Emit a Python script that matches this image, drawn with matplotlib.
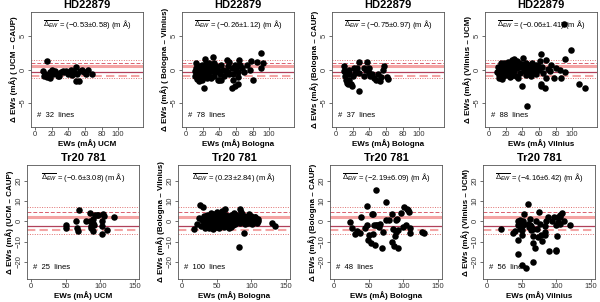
import matplotlib.pyplot as plt

plt.rcParams['font.family'] = ['Liberation Sans', 'DejaVu Sans']
plt.rcParams['mathtext.fontset'] = 'custom'
plt.rcParams['mathtext.rm'] = 'Liberation Sans'
plt.rcParams['mathtext.it'] = 'Liberation Sans:italic'

# ---- data ----
# HD22879, UCM - CAUP
x1 = [14, 12, 14, 18, 20, 22, 24, 27, 29, 16, 18, 33, 35, 37, 39, 43, 49, 49, 53, 51,
      54, 57, 61, 64, 69, 10, 11, 25, 31, 45, 47, 59]
y1 = [1.3, -0.7, -1.1, -0.4, -0.1, -0.6, -0.2, -0.9, -1.0, -0.9, -1.2, -0.2, -0.4, -0.2,
      -0.7, -0.1, 0.4, -1.7, -1.7, -0.6, -0.2, -0.1, -0.7, -0.1, -0.6, -0.2, -1.0, -0.5,
      -0.3, -0.8, -0.3, -0.4]

# HD22879, Bologna - Vilnius
x2 = [90, 93, 90, 86, 78, 80, 70, 64, 63, 62, 62, 62, 59, 55, 57, 57, 52, 49, 51, 44,
      40, 38, 41, 35, 34, 32, 30, 30, 28, 25, 23, 23, 21, 21, 22, 19, 17, 15, 14, 13,
      12, 11, 12, 15, 19, 25, 28, 32, 36, 38, 42, 46, 55, 59, 52, 67, 73, 77, 17, 20,
      23, 13, 16, 30, 34, 48, 51, 60, 65, 42, 27, 21, 15, 19, 11, 14, 24, 36]
y2 = [2.45, 1.0, 0.15, 1.1, 1.2, -1.5, -0.4, 1.4, 0.5, -0.4, -1.1, -2.2, -2.5, -2.7,
      -1.5, -0.6, 1.1, 1.4, -0.3, 0.0, -1.5, -1.5, -0.7, -0.4, 0.9, 1.9, 0.7, -0.2, -1.0,
      -1.3, 1.5, 0.5, -0.2, -0.7, -2.8, -1.6, -1.2, -0.7, 0.0, -0.5, 1.0, -1.0, 0.2, 0.5,
      0.7, 0.2, 1.0, 0.2, 0.5, 0.0, 0.7, -1.0, 0.2, 0.7, -0.7, 0.2, 0.7, 0.0, -0.1, -1.1,
      -0.5, -1.4, -1.7, -1.2, -1.0, -0.2, 0.5, -0.1, 0.7, -1.5, -0.2, 0.2, -0.2, -0.6,
      -0.2, -1.0, 0.9, -0.2]

# HD22879, Bologna - CAUP
x3 = [10, 10, 11, 12, 13, 14, 15, 15, 16, 18, 19, 20, 21, 23, 25, 27, 27, 28, 33, 34,
      36, 37, 39, 40, 41, 43, 46, 48, 51, 53, 54, 56, 58, 61, 62, 11, 14]
y3 = [0.5, -0.2, -1.0, -1.5, -2.0, -2.2, -1.5, -0.7, 0.0, -2.2, -2.5, -1.0, 0.2, -0.5,
      0.2, -3.2, -0.5, 1.1, 0.2, -1.0, -0.1, 1.1, -0.5, 0.2, -0.9, -0.7, -1.2, -1.5,
      -0.7, -1.7, -1.1, 0.0, 0.5, -1.1, -1.4, -0.2, -0.5]

# HD22879, Vilnius - UCM
x4 = [10, 11, 12, 12, 13, 14, 14, 15, 16, 16, 17, 18, 18, 19, 20, 20, 21, 22, 22, 23,
      24, 24, 25, 26, 27, 28, 28, 29, 30, 30, 31, 32, 33, 34, 35, 36, 37, 38, 39, 40,
      41, 42, 43, 44, 45, 46, 46, 47, 48, 49, 50, 51, 52, 53, 54, 55, 56, 57, 58, 59,
      60, 61, 62, 62, 63, 64, 65, 67, 69, 69, 71, 73, 75, 78, 80, 85, 87, 90, 91, 92,
      99, 108, 116, 15, 26, 34, 12, 44]
y4 = [-0.3, 0.4, -1.2, 0.1, -0.6, 0.9, -1.3, 0.2, -0.4, 0.6, -0.9, 0.3, 1.0, -0.2, 0.7,
      -0.8, 0.0, 0.5, -0.5, 1.1, -0.3, 0.3, -1.1, 0.8, 0.1, 1.4, -0.6, 0.4, 1.6, -0.2,
      0.9, -1.0, 0.6, 0.2, -1.3, 1.0, -0.5, 0.3, -2.5, 0.8, 1.7, -0.2, 0.5, -0.8, 1.0,
      -5.4, 0.2, 0.6, -0.4, 0.1, -1.0, 0.4, 0.9, -0.3, 0.2, -0.2, 0.6, -0.6, 0.3, 0.5,
      -0.1, 1.2, -2.1, 2.3, -2.4, 0.4, -0.5, -2.8, 1.4, -1.2, 0.1, -0.2, 0.6, -1.3, 0.2,
      0.0, -1.3, 6.8, 1.6, -0.4, 2.9, -2.1, -2.7, -1.4, -1.0, 1.3, -0.8, 0.4]

# Tr20 781, UCM - CAUP
x5 = [50, 50, 65, 67, 69, 68, 80, 85, 85, 86, 86, 89, 89, 91, 92, 95, 97, 102, 103, 103,
      104, 106, 109, 120, 90]
y5 = [-1.7, -3.3, 0.3, -3.2, 5.6, -4.8, 0.0, 4.3, 0.3, -2.1, -3.3, -0.8, -4.9, -1.7,
      3.0, 3.0, 3.0, -2.1, -6.5, 0.3, 3.5, 2.7, -4.1, 1.9, 1.1]

# Tr20 781, Bologna - Vilnius
x6 = [17, 22, 24, 26, 27, 28, 30, 31, 32, 33, 34, 35, 36, 37, 38, 39, 40, 41, 42, 43,
      44, 45, 46, 47, 48, 49, 50, 50, 51, 52, 53, 54, 55, 55, 56, 57, 58, 59, 60, 61,
      62, 62, 63, 64, 65, 66, 67, 68, 69, 70, 71, 72, 73, 74, 75, 76, 77, 78, 79, 80,
      81, 82, 83, 84, 84, 85, 86, 87, 88, 89, 90, 91, 92, 93, 94, 95, 96, 97, 98, 99,
      100, 101, 102, 103, 104, 105, 106, 107, 108, 109, 110, 130, 134, 45, 60, 70, 53,
      36, 75, 58]
y6 = [-3.7, -1.5, 1.8, 7.8, -2.5, 0.5, 7.1, -1.0, 2.5, -3.3, 0.8, -2.0, 3.0, -0.5, 1.5,
      -3.5, 2.0, -1.2, 4.0, 0.3, -2.8, 1.0, 3.5, -0.8, 2.5, -3.0, 0.5, 4.8, -1.8, 1.8,
      3.8, -0.3, 2.2, -2.5, 0.9, 4.2, -1.5, 1.2, 2.8, -0.6, 5.9, 0.2, -2.2, 3.2, 1.0,
      -1.0, 2.0, -3.2, 0.6, 3.0, -0.2, 1.5, -2.0, 2.5, 0.2, -1.3, 1.0, 3.2, -0.5, 2.0,
      0.8, -12.9, 1.5, 5.9, -1.0, 4.5, 2.0, 3.5, 0.0, -5.6, 2.8, -1.5, 1.2, 2.2, 0.5,
      -0.8, 3.5, 0.8, -0.3, 1.5, 2.5, -1.3, 0.2, 1.0, -0.5, 2.0, 1.9, 0.4, -0.7, 1.2,
      0.0, -0.8, -2.4, -3.8, -3.0, -2.8, -3.5, -2.7, 4.0, 5.0]

# Tr20 781, Bologna - CAUP
x7 = [23, 26, 30, 33, 38, 39, 47, 48, 49, 50, 54, 55, 56, 56, 57, 59, 60, 61, 62, 65,
      69, 71, 75, 75, 80, 83, 84, 85, 88, 87, 89, 89, 91, 92, 93, 97, 100, 101, 104,
      107, 108, 106, 110, 110, 127, 130, 67, 45]
y7 = [-0.5, -3.3, -6.5, -4.9, -6.0, 2.2, 7.4, -2.0, -9.1, -6.8, -10.7, 3.8, 3.5, -6.5,
      -1.7, -11.5, 15.3, -1.7, -2.0, -2.8, -13.1, -5.2, 9.4, 0.8, 0.8, -10.2, 3.8, -3.6,
      -7.1, -12.3, -5.5, 0.8, 1.1, -4.4, -13.4, 4.3, -2.8, 7.1, -2.0, 5.4, 4.6, 6.1,
      -3.1, -6.0, -5.2, -5.7, -1.3, -3.3]

# Tr20 781, Vilnius - UCM
x8 = [20, 38, 41, 44, 45, 47, 44, 48, 49, 50, 51, 52, 53, 56, 52, 59, 61, 62, 63, 64,
      66, 66, 67, 67, 69, 71, 73, 75, 77, 78, 80, 83, 84, 83, 85, 89, 94, 96, 99, 100,
      101, 100, 102, 102, 105, 106, 108, 105, 111, 120, 45, 59, 72, 88, 50, 62]
y8 = [-3.6, -5.9, -4.8, 0.3, -9.1, 0.8, -16.4, -3.6, -2.0, -21.6, -4.4, 0.3, 3.4, -23.1,
      -2.0, 8.6, -2.8, -1.7, -4.4, -2.3, -20.0, -10.6, -3.6, -7.5, -13.0, 0.3, -8.0, 4.5,
      -1.3, -7.0, -9.5, -5.2, -6.7, -2.3, 0.3, -14.8, 0.3, 1.9, -14.2, -14.5, -7.5, -1.7,
      -0.2, 1.9, 1.9, 3.0, 3.9, -1.3, 0.3, -1.7, -2.0, -1.3, -3.6, 1.9, -7.0, 1.1]

titles = ["HD22879"] * 4 + ["Tr20 781"] * 4
ylabels = ["Δ EWs (mÅ) ( UCM – CAUP)", "Δ EWs (mÅ) ( Bologna – Vilnius)",
           "Δ EWs (mÅ) (Bologna – CAUP)", "Δ EWs (mÅ) (Vilnius – UCM)",
           "Δ EWs (mÅ) (UCM – CAUP)", "Δ EWs (mÅ) (Bologna – Vilnius)",
           "Δ EWs (mÅ) (Bologna – CAUP)", "Δ EWs (mÅ) (Vilnius – UCM)"]
xlabels = ["EWs (mÅ) UCM", "EWs (mÅ) Bologna", "EWs (mÅ) Bologna", "EWs (mÅ) Vilnius"] * 2
means = ["−0.53", "−0.26", "−0.75", "−0.06", "−0.6", "0.23", "−2.19", "−4.16"]
sigmas = ["0.58", "1.12", "0.97", "1.41", "3.08", "2.84", "6.09", "6.42"]
nlines = [32, 78, 37, 88, 25, 100, 48, 56]

# reference lines: (upper solid, upper dashed, upper dotted, lower solid, lower dashed, lower dotted)
lines_top = [0.5, 1.0, 1.4, -0.4, -0.9, -1.3]
lines_bot = [2.2, 4.5, 6.9, -2.4, -4.3, -6.3]

xs = [x1, x2, x3, x4, x5, x6, x7, x8]
ys = [y1, y2, y3, y4, y5, y6, y7, y8]

# ---- layout (pixel boxes of the panels) ----
W, H = 600, 302
lefts_top = [31, 182, 332, 485]
lefts_bot = [27, 178, 330, 483]
pw = 112

fig = plt.figure(figsize=(6, 3.02), dpi=100)

for i in range(8):
    row = i // 4
    col = i % 4
    if row == 0:
        l, t, b = lefts_top[col], 12, 127
    else:
        l, t, b = lefts_bot[col], 165, 279
    ax = fig.add_axes([l / W, 1 - b / H, pw / W, (b - t) / H])

    ax.scatter(xs[i], ys[i], s=22, color="black", zorder=3, linewidths=0)

    hl = lines_top if row == 0 else lines_bot
    ax.axhline(hl[0], color="#f4a4a4", lw=2.2, zorder=1)
    ax.axhline(hl[1], color="#d9606e", lw=0.7, ls=(0, (4, 2)), zorder=1)
    ax.axhline(hl[2], color="#e07070", lw=0.7, ls=(0, (1, 1.5)), zorder=1)
    ax.axhline(hl[3], color="#b0405a", lw=0.9, zorder=1)
    ax.axhline(hl[4], color="#f4a4a4", lw=1.5, ls=(0, (4, 2)), zorder=1)
    ax.axhline(hl[5], color="#e07070", lw=0.7, ls=(0, (1, 1.5)), zorder=1)

    if row == 0:
        ax.set_xlim(-5, 130)
        ax.set_ylim(-8.6, 8.6)
        ax.set_xticks([0, 20, 40, 60, 80, 100])
        ax.set_yticks([-5, 0, 5])
    else:
        ax.set_xlim(-6, 156)
        ax.set_ylim(-28.5, 27.8)
        ax.set_xticks([0, 50, 100, 150])
        ax.set_yticks([-20, -10, 0, 10, 20])

    ax.tick_params(labelsize=5.5, length=2, width=0.5, pad=1, colors="#333333")
    for lab in ax.get_yticklabels():
        lab.set_rotation(90)
        lab.set_va("center")
    for sp in ax.spines.values():
        sp.set_linewidth(0.6)
        sp.set_color("#555555")

    ax.set_title(titles[i], fontsize=8, fontweight="bold", pad=3)
    ax.set_xlabel(xlabels[i], fontsize=5.8, fontweight="bold", labelpad=0.5)
    ax.set_ylabel(ylabels[i], fontsize=5.8, fontweight="bold", labelpad=1)

    ax.text(0.5, 0.95, r"$\overline{\Delta_{EW}}$ = (" + means[i] + "±" + sigmas[i] + ") (m Å)",
            transform=ax.transAxes, ha="center", va="top", fontsize=5.5)
    ax.text(0.05, 0.1, "#  %d  lines" % nlines[i], transform=ax.transAxes,
            ha="left", va="center", fontsize=5.5)

fig.savefig("out.png", dpi=100)
